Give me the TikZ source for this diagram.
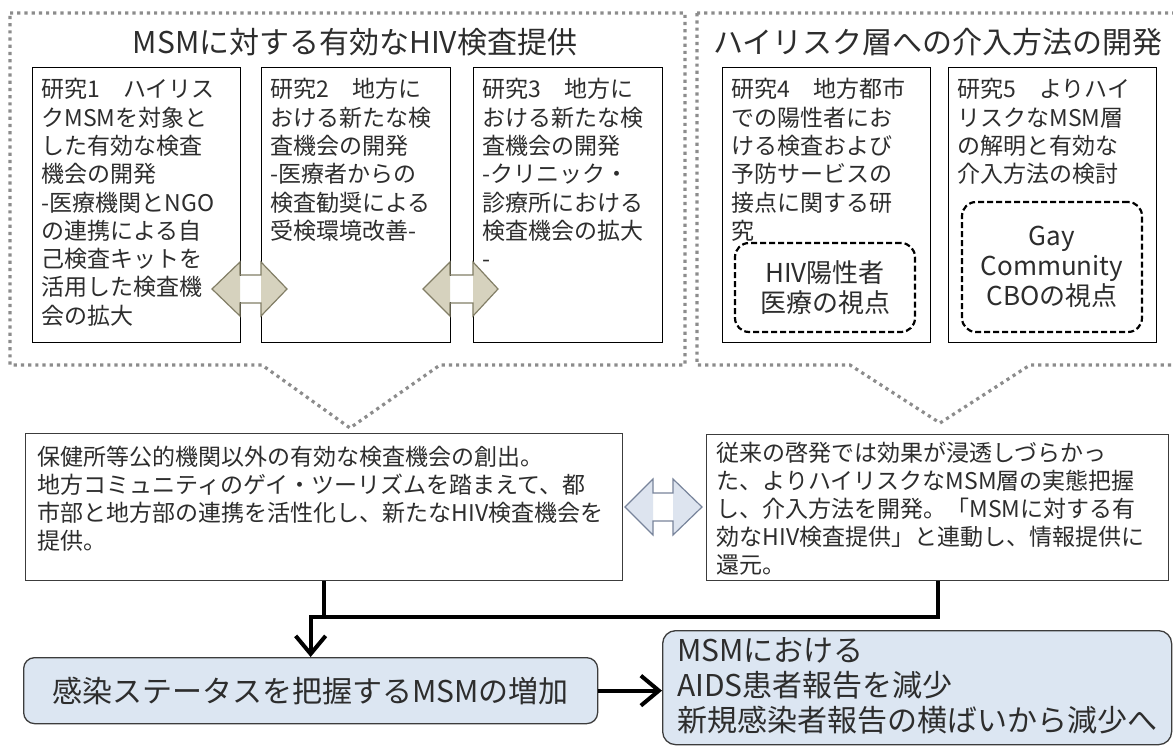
\documentclass[tikz,border=0pt]{standalone}
\usepackage{fontspec}
\setmainfont{Noto Sans CJK JP}
\usetikzlibrary{arrows.meta,calc}
\definecolor{dotgray}{RGB}{140,140,140}
\definecolor{beige}{RGB}{214,210,190}
\definecolor{beigeline}{RGB}{130,126,102}
\definecolor{paleblue}{RGB}{220,230,242}
\definecolor{arrblue}{RGB}{221,228,239}
\definecolor{arrblueline}{RGB}{120,132,155}
\definecolor{boxline}{RGB}{60,60,60}
\definecolor{txt}{RGB}{45,45,45}
\newcommand{\tbx}[4]{\begin{minipage}[t][#2][t]{#1}\vspace*{#3}\raggedright #4\end{minipage}}
\tikzset{
  dotframe/.style={draw=dotgray, line width=3.2pt, dash pattern=on 3.2pt off 4pt},
  title/.style={font=\fontsize{30}{34}\selectfont, text=txt, inner sep=0pt},
  sbox/.style={draw=black, line width=1.1pt, anchor=north west, inner xsep=9pt, inner ysep=6pt,
    font=\fontsize{23}{28.3}\selectfont, text=txt},
  dbox/.style={draw=black, line width=2.2pt, dash pattern=on 6pt off 3pt, rounded corners=14pt,
    align=center, font=\fontsize{26}{30}\selectfont, text=txt, inner sep=0pt},
  mbox/.style={draw=boxline, line width=1.1pt, anchor=north west, inner ysep=6pt,
    font=\fontsize{23}{28}\selectfont, text=txt},
  bbox/.style={draw=boxline, line width=1.3pt, fill=paleblue, rounded corners=11pt, text=txt},
  conn/.style={draw=black, line width=4pt, line join=miter},
  barb/.style={-{Straight Barb[length=18pt,width=30pt]}},
}
\newcommand{\dblarr}[9]{%
  % #1 fill, #2 line, #3 left tip x, #4 left base x, #5 right base x, #6 right tip x, #7 center y, #8 head half, #9 shaft half
  \fill[white] (#4,#7-#9+0.7) rectangle (#5,#7+#9-0.7);
  \fill[#1] (#3,#7) -- (#4,#7-#8) -- (#4,#7+#8) -- cycle;
  \fill[#1] (#6,#7) -- (#5,#7-#8) -- (#5,#7+#8) -- cycle;
  \draw[#2, line width=1.2pt, line join=miter] (#3,#7) -- (#4,#7-#8) -- (#4,#7-#9) -- (#5,#7-#9) -- (#5,#7-#8)
    -- (#6,#7) -- (#5,#7+#8) -- (#5,#7+#9) -- (#4,#7+#9) -- (#4,#7+#8) -- cycle;
}
\begin{document}
\begin{tikzpicture}[x=1pt,y=-1pt]
\useasboundingbox (0,0) rectangle (1173,746);
\clip (0,0) rectangle (1173,746);
\fill[white] (0,0) rectangle (1173,746);

% dotted frames with chevrons
\draw[dotframe] (10,13) -- (685,13) -- (685,365) -- (440,365) -- (350,428) -- (262,365) -- (10,365) -- cycle;
\draw[dotframe] (697,13) -- (1190,13) -- (1190,365) -- (1030,365) -- (940,423) -- (850,365) -- (697,365) -- cycle;

% titles
\node[title] (t1) at (355,42) {MSMに対する有効なHIV検査提供};
\node[title] (t2) at (938,42) {ハイリスク層への介入方法の開発};

% study boxes
\node[sbox] (s1) at (32,67) {\tbx{190pt}{263pt}{5pt}{研究1　ハイリス\\クMSMを対象と\\した有効な検査\\機会の開発\\-医療機関とNGO\\の連携による自\\己検査キットを\\活用した検査機\\会の拡大}};
\node[sbox] (s2) at (261,67) {\tbx{171pt}{263pt}{5pt}{研究2　地方に\\おける新たな検\\査機会の開発\\-医療者からの\\検査勧奨による\\受検環境改善-}};
\node[sbox] (s3) at (473,67) {\tbx{171pt}{263pt}{5pt}{研究3　地方に\\おける新たな検\\査機会の開発\\-クリニック・\\診療所における\\検査機会の拡大\\-}};
\node[sbox] (s4) at (722,67) {\tbx{190pt}{263pt}{5pt}{研究4　地方都市\\での陽性者にお\\ける検査および\\予防サービスの\\接点に関する研\\究}};
\node[sbox] (s5) at (948,67) {\tbx{190pt}{263pt}{5pt}{研究5　よりハイ\\リスクなMSM層\\の解明と有効な\\介入方法の検討}};

% dashed viewpoint boxes
\node[dbox, minimum width=180pt, minimum height=89pt] (d4) at (825,287.5) {HIV陽性者\\医療の視点};
\node[dbox, minimum width=180pt, minimum height=130pt] (d5) at (1052,267) {Gay\\Community\\CBOの視点};

% double arrows between studies
\dblarr{beige}{beigeline}{212}{240}{261}{287}{289}{27}{14}
\dblarr{beige}{beigeline}{423}{450}{473}{498}{289}{27}{14}

% middle boxes
\node[mbox, inner xsep=12pt] (ml) at (25,433) {\tbx{573pt}{135pt}{7pt}{保健所等公的機関以外の有効な検査機会の創出。\\地方コミュニティのゲイ・ツーリズムを踏まえて、都\\市部と地方部の連携を活性化し、新たなHIV検査機会を\\提供。}};
\node[mbox, inner xsep=10pt] (mr) at (706,434) {\tbx{442pt}{134pt}{1pt}{従来の啓発では効果が浸透しづらかっ\\た、よりハイリスクなMSM層の実態把握\\し、介入方法を開発。「MSMに対する有\\効なHIV検査提供」と連動し、情報提供に\\還元。}};

\dblarr{arrblue}{arrblueline}{625}{653}{673}{702}{507}{28}{14}

% bottom boxes
\node[bbox, anchor=north west, minimum width=574pt, minimum height=66pt, inner sep=0pt,
  font=\fontsize{30}{34}\selectfont] (bl) at (23,657) {感染ステータスを把握するMSMの増加};
\node[bbox, anchor=north west, inner xsep=14.5pt, inner ysep=4pt, rounded corners=13pt,
  font=\fontsize{30}{35}\selectfont] (br) at (662,630) {\tbx{480pt}{106pt}{3pt}{MSMにおける\\AIDS患者報告を減少\\新規感染者報告の横ばいから減少へ}};

% connectors
\coordinate (j) at ($(bl.north)+(0,-40)$);
\draw[conn] (ml.south) -- (ml.south |- j);
\draw[conn, barb] (mr.south) |- (j) -- (bl.north);
\draw[conn, barb] (bl.east) -- (bl.east -| br.west);
\end{tikzpicture}
\end{document}
